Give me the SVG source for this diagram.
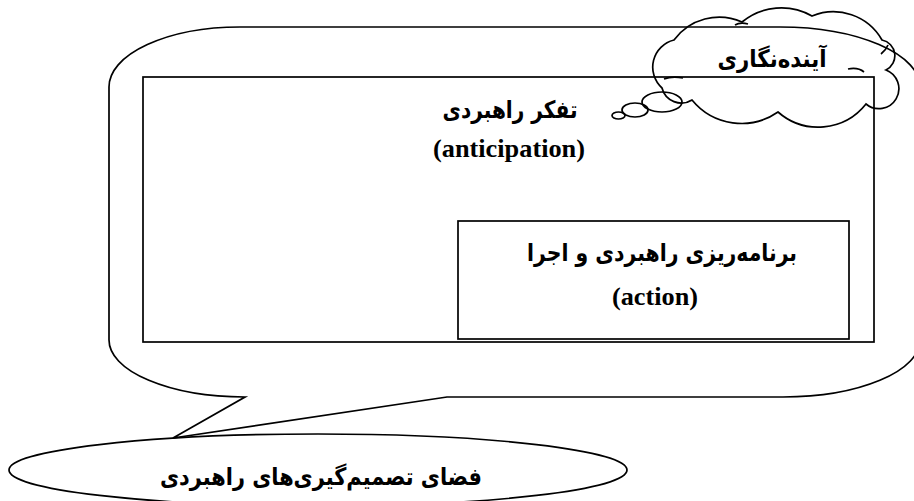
<svg xmlns="http://www.w3.org/2000/svg" width="914" height="501" viewBox="0 0 914 501">
<style>
.ln{fill:none;stroke:#000;stroke-width:1.7}
.fa{font-family:"DejaVu Sans",sans-serif;font-weight:bold;font-size:24px;fill:#000;text-anchor:middle}
.en{font-family:"Liberation Serif",serif;font-weight:bold;font-size:26px;fill:#000;text-anchor:middle}
</style>
<rect width="914" height="501" fill="#fff"/>
<g id="space">
<path class="ln" d="M 245,27 H 780 A 140 60 0 0 1 920 87 V 340 A 137 57 0 0 1 783 397 H 447 L 173 438 L 245 397 A 136 57 0 0 1 109 340 V 87 A 131 60 0 0 1 240 27 Z"/>
</g>
<g id="bottom-label">
<ellipse class="ln" cx="318" cy="470" rx="309" ry="36"/>
<text class="fa" x="321" y="485" textLength="322" lengthAdjust="spacingAndGlyphs">فضای تصمیم‌گیری‌های راهبردی</text>
</g>
<g id="strategic-thinking">
<rect class="ln" x="143" y="77" width="731" height="265"/>
<text class="fa" x="510" y="118" textLength="135" lengthAdjust="spacingAndGlyphs">تفکر راهبردی</text>
<text class="en" x="509" y="157" textLength="152" lengthAdjust="spacingAndGlyphs">(anticipation)</text>
</g>
<g id="planning">
<rect class="ln" x="458" y="221" width="391" height="118"/>
<text class="fa" x="662" y="261" textLength="270" lengthAdjust="spacingAndGlyphs">برنامه‌ریزی راهبردی و اجرا</text>
<text class="en" x="655" y="305" textLength="86" lengthAdjust="spacingAndGlyphs">(action)</text>
</g>
<g id="foresight">
<path class="ln" d="M 662,88 A 28 28 0 0 1 674,40 A 56 56 0 0 1 742,22 A 62 62 0 0 1 812,16 A 56 56 0 0 1 882,40 A 16 16 0 0 1 886,70 A 20 20 0 1 1 866,104 A 61 61 0 0 1 778,112 A 64 64 0 0 1 692,100 A 20 20 0 0 1 662,88 Z"/>
<path class="ln" d="M 664,79 Q 672,76 683,78 M 848,69 Q 858,67 864,72 M 881,54 Q 886,50 888,45 M 735,25 Q 740,22 748,24"/>
<ellipse class="ln" cx="662" cy="102" rx="20" ry="10"/>
<ellipse class="ln" cx="635" cy="110" rx="13" ry="7"/>
<ellipse class="ln" cx="618.5" cy="115.5" rx="6.5" ry="3.5"/>
<text class="fa" x="772" y="67" textLength="109" lengthAdjust="spacingAndGlyphs">آینده‌نگاری</text>
</g>
</svg>
